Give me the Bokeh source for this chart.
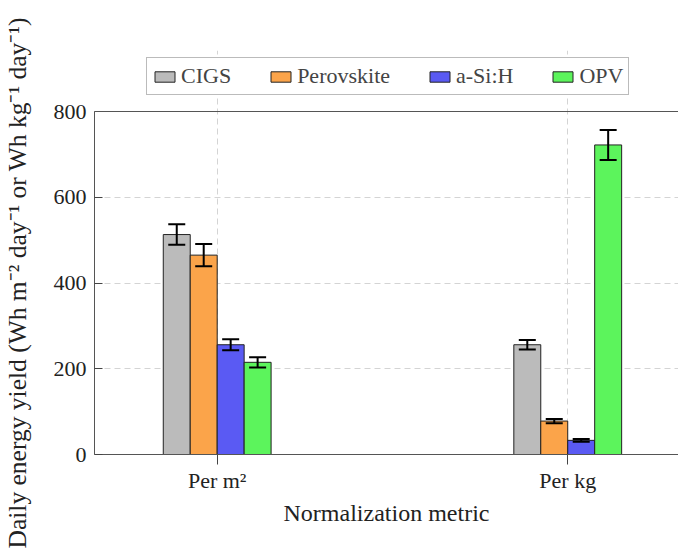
from bokeh.plotting import figure
from bokeh.models import (ColumnDataSource, Range1d, FixedTicker, Whisker, TeeHead, Span, Legend, Title)
from bokeh.embed import file_html
from bokeh.resources import INLINE

groups = ["Per m²", "Per kg"]
techs = ["CIGS", "Perovskite", "a-Si:H", "OPV"]
colors = ["#bbbbbb", "#fba44a", "#5a5af3", "#5cf45c"]
per_m2 = [513, 465, 256, 215]
err_m2 = [24, 26, 13, 12]
per_kg = [256, 78, 33, 722]
err_kg = [11, 5, 3, 35]
y_ticks = [0, 200, 400, 600, 800]
y_label = "Daily energy yield (Wh m⁻² day⁻¹ or Wh kg⁻¹ day⁻¹)"
x_label = "Normalization metric"

FONT = "Liberation Serif"
bw = 0.0769

p = figure(width=678, height=552, output_backend="svg", toolbar_location=None,
           x_range=Range1d(-0.350, 1.316), y_range=Range1d(0, 942.3),
           min_border_left=93, min_border_right=0, min_border_top=50, min_border_bottom=98)
p.outline_line_color = None
p.background_fill_color = "white"
p.border_fill_color = "white"

items = []
for i, t in enumerate(techs):
    xs = [g + (i - 1.5) * bw for g in range(len(groups))]
    vals = [per_m2[i], per_kg[i]]
    errs = [err_m2[i], err_kg[i]]
    src = ColumnDataSource(dict(x=xs, top=vals,
                                upper=[v + e for v, e in zip(vals, errs)],
                                lower=[v - e for v, e in zip(vals, errs)]))
    r = p.vbar(x="x", top="top", width=bw, source=src, fill_color=colors[i],
               line_color="#222222", line_width=1)
    items.append((t, [r]))
    w = Whisker(base="x", upper="upper", lower="lower", source=src, level="overlay",
                line_color="black", line_width=2,
                upper_head=TeeHead(size=17, line_width=2, line_color="black"),
                lower_head=TeeHead(size=17, line_width=2, line_color="black"))
    p.add_layout(w)

p.add_layout(Span(location=y_ticks[-1], dimension="width", line_color="#555555", line_width=1))

legend = Legend(items=items, orientation="horizontal", location=(52, 359),
                label_text_font=FONT, label_text_font_size="22px",
                glyph_width=25, glyph_height=13, label_standoff=4, spacing=37,
                padding=5, margin=0, border_line_color="#777777",
                background_fill_alpha=1, label_height=22)
p.add_layout(legend, "center")

p.xaxis.ticker = FixedTicker(ticks=list(range(len(groups))))
p.xaxis.major_label_overrides = {i: g for i, g in enumerate(groups)}
p.xaxis.axis_label = x_label
p.yaxis.ticker = FixedTicker(ticks=y_ticks)
p.yaxis.bounds = (y_ticks[0], y_ticks[-1])

for ax in (p.xaxis, p.yaxis):
    ax.axis_label_text_font = FONT
    ax.axis_label_text_font_style = "normal"
    ax.axis_label_text_color = "#222222"
    ax.major_label_text_font = FONT
    ax.major_label_text_font_size = "22px"
    ax.major_label_text_color = "#222222"
    ax.axis_line_color = "#555555"
    ax.major_tick_line_color = "#444444"
    ax.minor_tick_line_color = None

# blank spacer label so the rotated title sits further left
p.yaxis.axis_label = " "
p.yaxis.axis_label_text_font_size = "1px"
p.yaxis.axis_label_standoff = 15

p.add_layout(Title(text=y_label, align="left", offset=-94, standoff=0,
                   text_font=FONT, text_font_size="25.5px", text_font_style="normal",
                   text_color="#222222"), "left")

p.xaxis.axis_label_text_font_size = "24px"
p.xaxis.major_tick_in = 0
p.xaxis.major_tick_out = 10
p.xaxis.major_label_standoff = 3
p.xaxis.axis_label_standoff = 4
p.yaxis.major_tick_in = 8
p.yaxis.major_tick_out = 0
p.yaxis.major_label_standoff = 8

p.xgrid.grid_line_color = "#d4d4d4"
p.xgrid.grid_line_dash = "6 4"
p.xgrid.bounds = (y_ticks[0], y_ticks[-1])
p.ygrid.grid_line_color = "#d4d4d4"
p.ygrid.grid_line_dash = "6 4"

open("out.html", "w").write(file_html(p, INLINE))
